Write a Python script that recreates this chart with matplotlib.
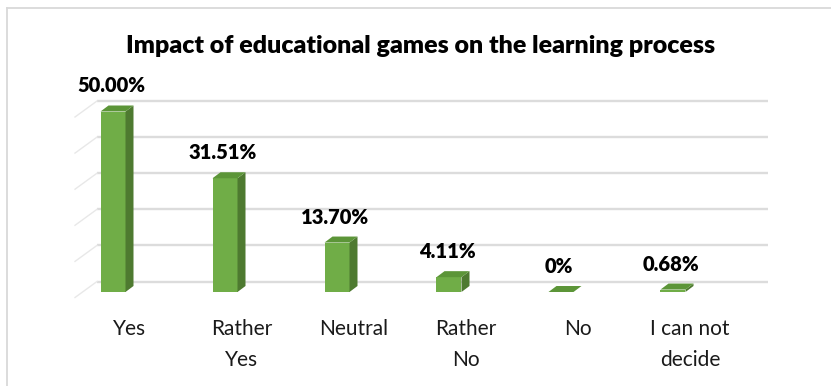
import matplotlib
matplotlib.use("Agg")
import matplotlib.pyplot as plt
from matplotlib.patches import Polygon

categories = ["Yes", "Rather\nYes", "Neutral", "Rather\nNo", "No", "I can not\ndecide"]
values = [50.00, 31.51, 13.70, 4.11, 0.0, 0.68]
value_labels = ["50.00%", "31.51%", "13.70%", "4.11%", "0%", "0.68%"]
gridlines = [0, 10, 20, 30, 40, 50]
title = "Impact of educational games on the learning process"

FONT = ["Lato", "DejaVu Sans"]
W, H, DPI = 831, 386, 100

# layout in pixels
ax_l, ax_r, ax_t, ax_b = 8, 830, 70, 380
cat0_px, cat_step = 113, 112
base_px, per_pct = 292, 3.61

fig = plt.figure(figsize=(W / DPI, H / DPI), dpi=DPI)
ax = fig.add_axes([ax_l / W, 1 - ax_b / H, (ax_r - ax_l) / W, (ax_b - ax_t) / H])
ax.set_xlim((ax_l - cat0_px) / cat_step, (ax_r - cat0_px) / cat_step)
ax.set_ylim(-(ax_b - base_px) / per_pct, (base_px - ax_t) / per_pct)
ax.axis("off")

# depth geometry
bw = 25 / cat_step
bdx, bdy = 8 / cat_step, 6 / per_pct
wdy = 10.5 / per_pct
grid_x0 = (97 - cat0_px) / cat_step
grid_x1 = (768 - cat0_px) / cat_step

for g in gridlines:
    ax.plot([grid_x0, grid_x1], [g + wdy, g + wdy], color="#dcdcdc", lw=1.7,
            solid_capstyle="butt", zorder=1)
    ax.plot([grid_x0 - 22 / cat_step, grid_x0], [g + wdy - 16 / per_pct, g + wdy],
            color="#e8e8e8", lw=1.0, zorder=1)

front_c, side_c, top_c = "#70ad47", "#4e7a30", "#5c9538"
xs = list(range(len(categories)))
ax.bar(xs, values, width=bw, color=front_c, zorder=3, linewidth=0)
for x, v in zip(xs, values):
    xl, xr = x - bw / 2, x + bw / 2
    side = Polygon([(xr, 0), (xr + bdx, bdy), (xr + bdx, v + bdy), (xr, v)],
                   closed=True, facecolor=side_c, edgecolor="none", zorder=3)
    top = Polygon([(xl, v), (xr, v), (xr + bdx, v + bdy), (xl + bdx, v + bdy)],
                  closed=True, facecolor=top_c, edgecolor="none", zorder=4)
    ax.add_patch(side)
    ax.add_patch(top)

for x, v, lab in zip(xs, values, value_labels):
    ax.annotate(lab, (x, v + bdy), xytext=(-2, 13), textcoords="offset pixels",
                ha="center", va="baseline", fontsize=14.5, fontweight="heavy",
                family=FONT, color="#000000", zorder=5)

for x, c in zip(xs, categories):
    ax.annotate(c, (x, 0), xytext=(17, -(319 - base_px)), textcoords="offset pixels",
                ha="center", va="top", fontsize=15, family=FONT,
                color="#1a1a1a", linespacing=1.7)

fig.text(421 / W, 1 - 53 / H, title, ha="center", va="baseline", fontsize=18,
         fontweight="heavy", family=FONT, color="#000000")

# outer frame (top and left edges visible)
fig.add_artist(plt.Line2D([7 / W, 1], [1 - 8 / H, 1 - 8 / H], color="#d9d9d9", lw=1.3))
fig.add_artist(plt.Line2D([7 / W, 7 / W], [0, 1 - 8 / H], color="#d9d9d9", lw=1.3))

fig.savefig("out.png", dpi=DPI, facecolor="white")
